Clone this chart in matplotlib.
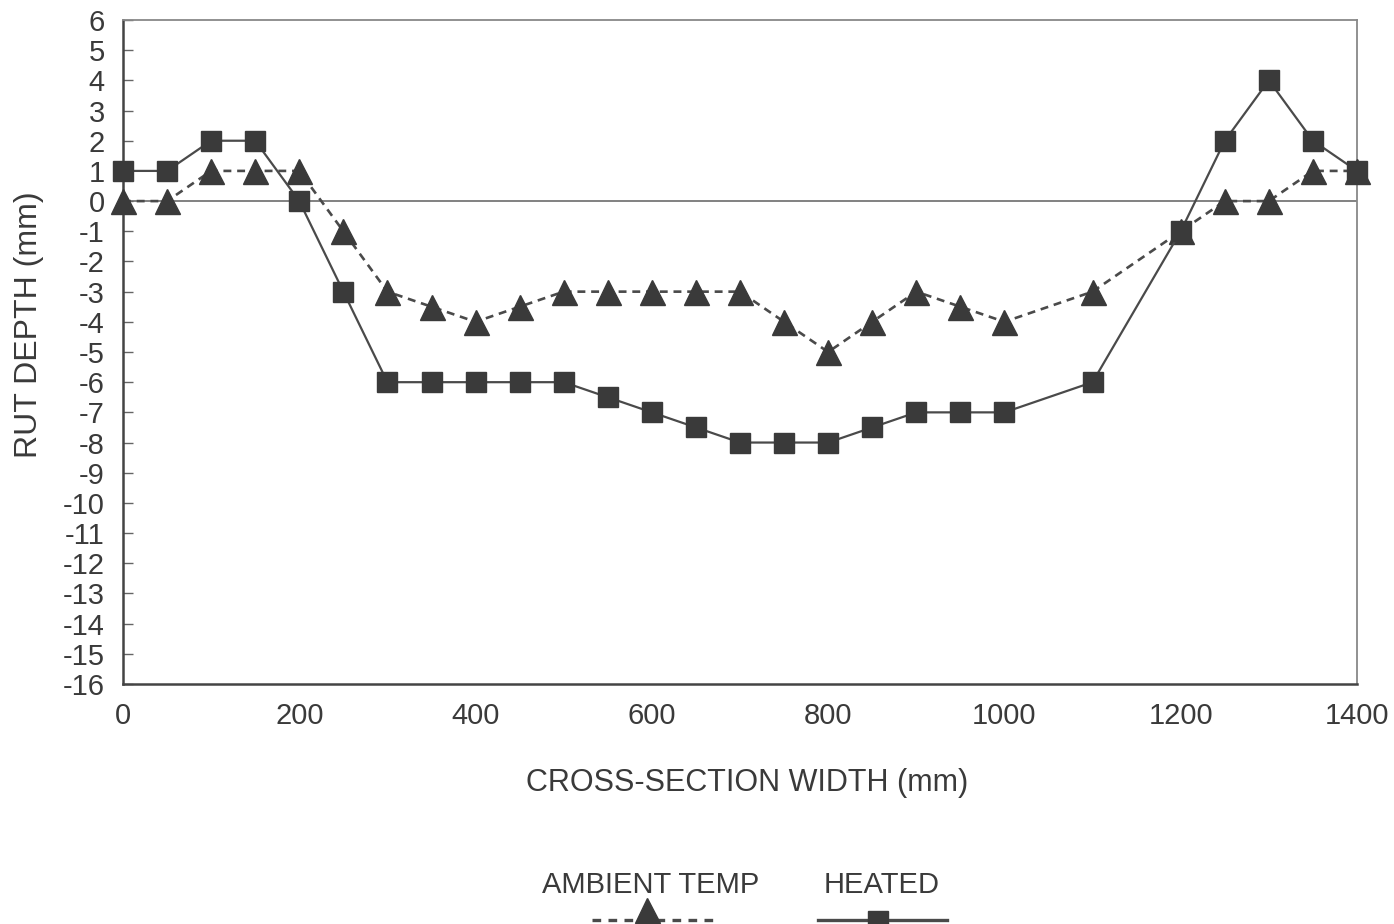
import matplotlib
matplotlib.use('Agg')
import matplotlib.pyplot as plt
from matplotlib.lines import Line2D

plt.rcParams['font.family'] = ['Liberation Sans', 'DejaVu Sans']
plt.rcParams['axes.unicode_minus'] = False

# Cross-section positions (mm)
width_mm = [0, 50, 100, 150, 200, 250, 300, 350, 400, 450, 500, 550, 600, 650,
            700, 750, 800, 850, 900, 950, 1000, 1100, 1200, 1250, 1300, 1350, 1400]

# Rut depth (mm) for each test
ambient = [0, 0, 1, 1, 1, -1, -3, -3.5, -4, -3.5, -3, -3, -3, -3,
           -3, -4, -5, -4, -3, -3.5, -4, -3, -1, 0, 0, 1, 1]
heated = [1, 1, 2, 2, 0, -3, -6, -6, -6, -6, -6, -6.5, -7, -7.5,
          -8, -8, -8, -7.5, -7, -7, -7, -6, -1, 2, 4, 2, 1]

y_ticks = list(range(-16, 7))
x_ticks = [0, 200, 400, 600, 800, 1000, 1200, 1400]

ink = '#3a3a3a'
line_col = '#4a4a4a'
W, H = 1394, 924

fig = plt.figure(figsize=(W / 100, H / 100), dpi=100)
ax = fig.add_axes([123 / W, 1 - 684 / H, (1357 - 123) / W, (684 - 20) / H])

ax.axhline(0, color='#777777', lw=1.3, zorder=1)

ax.plot(width_mm, ambient, color=line_col, lw=1.9, ls=(0, (3, 2.2)),
        marker='^', ms=18, mfc=ink, mec=ink, zorder=3, clip_on=False)
ax.plot(width_mm, heated, color=line_col, lw=1.6, ls='-',
        marker='s', ms=14.5, mfc=ink, mec=ink, zorder=4, clip_on=False)

ax.set_xlim(0, 1400)
ax.set_ylim(-16, 6)
ax.set_xticks(x_ticks)
ax.set_yticks(y_ticks)
ax.tick_params(axis='y', direction='in', length=7, width=1, color='#666666',
               labelsize=21, labelcolor=ink, pad=13)
ax.tick_params(axis='x', length=0, labelsize=21, labelcolor=ink, pad=13)

for side in ['left', 'bottom']:
    ax.spines[side].set_color('#444444')
    ax.spines[side].set_linewidth(1.8)
for side in ['top', 'right']:
    ax.spines[side].set_color('#888888')
    ax.spines[side].set_linewidth(1.3)

ax.set_ylabel('RUT DEPTH (mm)', fontsize=23, color=ink)
ax.yaxis.set_label_coords((29 - 123) / (1357 - 123), (684 - 325) / (684 - 20))
ax.set_xlabel('CROSS-SECTION WIDTH (mm)', fontsize=22, color=ink)
ax.xaxis.set_label_coords((747 - 123) / (1357 - 123), (684 - 783) / (684 - 20))
ax.xaxis.label.set_va('center')
ax.yaxis.label.set_va('center')

# Legend: label above a short sample of each line
fig.text(651 / W, 1 - 885 / H, 'AMBIENT TEMP', fontsize=21, color=ink,
         ha='center', va='center')
fig.text(882 / W, 1 - 885 / H, 'HEATED', fontsize=21, color=ink,
         ha='center', va='center')
ly = 1 - 920 / H
fig.add_artist(Line2D([592 / W, 713 / W], [ly, ly], color=line_col, lw=2.4,
                      ls=(0, (2.6, 2.2)), transform=fig.transFigure))
fig.add_artist(Line2D([647 / W], [1 - 910 / H], marker='^', ms=18, mfc=ink,
                      mec=ink, ls='none', transform=fig.transFigure))
fig.add_artist(Line2D([818 / W, 947 / W], [ly, ly], color=line_col, lw=2.4,
                      transform=fig.transFigure))
fig.add_artist(Line2D([878 / W], [1 - 921 / H], marker='s', ms=14.5, mfc=ink,
                      mec=ink, ls='none', transform=fig.transFigure))

fig.savefig('out.png', dpi=100)
